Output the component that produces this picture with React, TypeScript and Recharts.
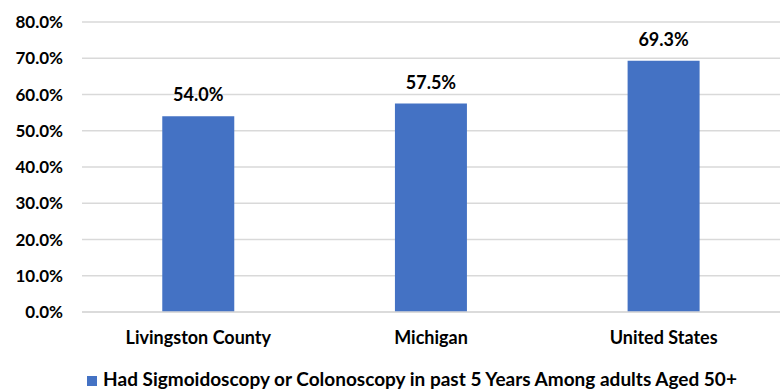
import React from 'react';
import { BarChart, Bar, XAxis, YAxis, CartesianGrid, Legend, LabelList } from 'recharts';

const categories = ['Livingston County', 'Michigan', 'United States'];
const values = [54.0, 57.5, 69.3];
const yTicks = [0, 10, 20, 30, 40, 50, 60, 70, 80];
const seriesName = 'Had Sigmoidoscopy or Colonoscopy in past 5 Years Among adults Aged 50+';

const data = categories.map((c, i) => ({ name: c, value: values[i] }));

const FONT = 'Lato, "Open Sans", sans-serif';

export default function App() {
  return (
    <div style={{ position: 'absolute', left: 0, top: 0, width: 780, height: 391, background: '#fff', fontFamily: FONT, overflow: 'hidden' }}>
      <BarChart
        width={780}
        height={391}
        data={data}
        margin={{ top: 22, right: 0, bottom: 0, left: 0 }}
        barCategoryGap="34.5%"
      >
        <CartesianGrid vertical={false} stroke="#d9d9d9" strokeWidth={1.5} />
        <XAxis
          dataKey="name"
          axisLine={{ stroke: '#d9d9d9', strokeWidth: 1.5 }}
          tickLine={false}
          tickMargin={13}
          height={57}
          tick={{ fill: '#000', fontSize: 18, fontWeight: 700, fontFamily: FONT }}
        />
        <YAxis
          domain={[0, 80]}
          ticks={yTicks}
          width={82}
          axisLine={false}
          tickLine={false}
          tickMargin={13}
          tickFormatter={(v: number) => v.toFixed(1) + '%'}
          tick={{ fill: '#000', fontSize: 17, fontWeight: 700, fontFamily: FONT }}
        />
        <Legend
          verticalAlign="bottom"
          height={22}
          iconType="square"
          iconSize={10}
          wrapperStyle={{ fontSize: 19, fontWeight: 700, fontFamily: FONT, color: '#000', lineHeight: '20px', width: 726, paddingLeft: 54, left: 0 }}
          formatter={(v: string) => <span style={{ color: '#000', marginLeft: 2 }}>{v}</span>}
        />
        <Bar dataKey="value" name={seriesName} fill="#4472c4" isAnimationActive={false}>
          <LabelList
            dataKey="value"
            position="top"
            offset={15}
            formatter={(v: number) => v.toFixed(1) + '%'}
            style={{ fill: '#000', fontSize: 18, fontWeight: 700, fontFamily: FONT }}
          />
        </Bar>
      </BarChart>
    </div>
  );
}
